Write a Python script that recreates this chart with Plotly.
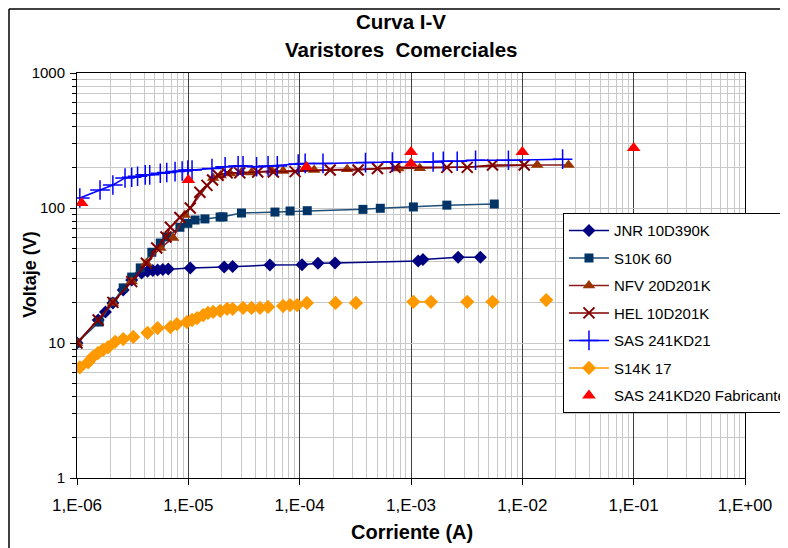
import plotly.graph_objects as go

# ---------------- data ----------------
JNR_I = [1.0e-6, 1.55e-6, 1.8e-6, 2.1e-6, 2.6e-6, 3.1e-6, 3.8e-6, 4.3e-6, 4.8e-6, 5.3e-6,
         5.9e-6, 6.6e-6, 1.04e-5, 2.1e-5, 2.5e-5, 5.4e-5, 1.05e-4, 1.46e-4, 2.08e-4,
         1.16e-3, 1.28e-3, 2.65e-3, 4.2e-3]
JNR_V = [10, 14.8, 17, 19.8, 24.7, 29.3, 33, 34, 34.5, 34.8,
         35, 35.3, 36, 36.5, 36.8, 37.8, 38, 39, 39.1,
         40.5, 41.5, 43.2, 43.2]

S10K_I = [1.0e-6, 1.58e-6, 2.1e-6, 2.6e-6, 3.1e-6, 3.7e-6, 4.7e-6, 5.6e-6, 6.4e-6, 8.4e-6,
          9.9e-6, 1.15e-5, 1.41e-5, 1.93e-5, 2.05e-5, 3.0e-5, 6.0e-5, 8.2e-5, 1.17e-4,
          3.7e-4, 5.3e-4, 1.05e-3, 2.1e-3, 5.6e-3]
S10K_V = [10, 14.3, 20.1, 25.6, 30.8, 36, 47, 55, 61, 72,
          77, 81.5, 83, 85.8, 86, 91.8, 93.3, 95, 95.5,
          97.7, 99.5, 101.8, 105, 107]

NFV_I = [1.0e-6, 2.1e-6, 3.1e-6, 4.2e-6, 5.6e-6, 7.3e-6, 9.3e-6, 1.67e-5, 1.95e-5, 2.37e-5,
         3.0e-5, 3.7e-5, 5.6e-5, 7.1e-5, 1.35e-4, 2.67e-4, 7.7e-4, 1.2e-3, 1.36e-2, 2.6e-2]
NFV_V = [10, 19.8, 28.5, 39, 50.5, 60, 88.6, 167, 174, 180,
         184, 183, 189, 188, 191, 194, 196, 197, 208, 208]

HEL_I = [1.0e-6, 1.55e-6, 2.1e-6, 3.1e-6, 4.2e-6, 5.2e-6, 6.3e-6, 6.9e-6, 8.4e-6, 1.04e-5,
         1.27e-5, 1.47e-5, 1.65e-5, 1.85e-5, 2.23e-5, 2.9e-5, 4.2e-5, 5.8e-5, 9.1e-5,
         1.88e-4, 3.35e-4, 5.0e-4, 7.2e-4, 2.1e-3, 3.2e-3, 5.4e-3, 1.04e-2]
HEL_V = [10, 14.8, 20, 28.5, 39, 50.5, 61, 72, 85, 100,
         131, 147, 161, 175, 182, 182, 185, 185, 186,
         191, 191, 196, 200, 200, 200, 208, 208]

SAS_I = [1.06e-6, 1.61e-6, 2.1e-6, 2.7e-6, 3.1e-6, 3.5e-6, 4.1e-6, 4.5e-6, 5.6e-6, 6.4e-6,
         7.6e-6, 8.8e-6, 9.9e-6, 1.08e-5, 1.63e-5, 2.14e-5, 2.8e-5, 3.1e-5, 4.1e-5, 5.2e-5,
         6.3e-5, 9.7e-5, 1.12e-4, 1.62e-4, 3.9e-4, 6.8e-4, 1.58e-3, 1.95e-3, 2.6e-3, 3.8e-3,
         7.5e-3, 2.3e-2]
SAS_V = [118.6, 136, 148, 167, 169, 172, 176, 176, 181, 183,
         186, 188, 191, 191, 196, 202, 205, 205, 202, 205,
         205, 212, 214, 214, 217, 219, 219, 222, 222, 226,
         226, 230]

# None = blank cell in the source sheet (line is broken there)
S14K_I = [1.06e-6, 1.26e-6, 1.39e-6, 1.54e-6, 1.71e-6, 1.9e-6, 2.2e-6, 2.6e-6, None,
          3.2e-6, None, 4.3e-6, None, 5.3e-6, None, 6.9e-6, None, 7.9e-6, None,
          9.7e-6, 1.08e-5, 1.2e-5, 1.36e-5, 1.5e-5, 1.67e-5, 1.93e-5, 2.23e-5, 2.5e-5, None,
          3.1e-5, None, 3.7e-5, None, 4.4e-5, None, 5.2e-5, None,
          7.1e-5, 8.2e-5, 9.5e-5, 1.16e-4, None, 2.1e-4, None, 3.2e-4, None,
          1.05e-3, 1.51e-3, None, 3.2e-3, None, 5.4e-3, None, 1.64e-2]
S14K_V = [6.6, 7.2, 7.9, 8.4, 8.9, 9.3, 10.2, 10.7, None,
          11.1, None, 11.9, None, 12.9, None, 13.1, None, 13.8, None,
          14.3, 14.8, 15.3, 16.1, 16.7, 17.0, 17.3, 17.9, 17.9, None,
          18.2, None, 18.2, None, 18.2, None, 18.5, None,
          18.8, 19.1, 19.1, 19.8, None, 19.8, None, 19.8, None,
          20.2, 20.2, None, 20.2, None, 20.2, None, 20.8]

FAB_I = [1.1e-6, 1.0e-5, 1.15e-4, 1.0e-3, 1.0e-3, 1.0e-2, 1.0e-1]
FAB_V = [109, 161, 201, 260, 214, 260, 278]

X_TICKS = [1e-6, 1e-5, 1e-4, 1e-3, 1e-2, 1e-1, 1e0]
X_LABELS = ["1,E-06", "1,E-05", "1,E-04", "1,E-03", "1,E-02", "1,E-01", "1,E+00"]
Y_TICKS = [1, 10, 100, 1000]
Y_LABELS = ["1", "10", "100", "1000"]

# minor (2..9) positions of each decade
X_MINOR = [m * d for d in X_TICKS[:-1] for m in range(2, 10)]
Y_MINOR = [m * d for d in Y_TICKS[:-1] for m in range(2, 10)]

FONT = "Liberation Sans, Arial, sans-serif"

fig = go.Figure()

series = [
    ("JNR 10D390K", JNR_I, JNR_V, "#000080", "#000080", "diamond", 10, 0),
    ("S10K 60", S10K_I, S10K_V, "#1F4E79", "#003366", "square", 9, 0),
    ("NFV 20D201K", NFV_I, NFV_V, "#8B1A1A", "#993300", "triangle-up", 11, 0),
    ("HEL 10D201K", HEL_I, HEL_V, "#800000", "#800000", "x-thin-open", 11, 2),
    ("SAS 241KD21", SAS_I, SAS_V, "#0000FF", "#0000FF", "cross-thin-open", 14, 1.5),
    ("S14K 17", S14K_I, S14K_V, "#FF9900", "#FF9900", "diamond", 11, 0),
]
for i, (name, xs, ys, lc, mc, sym, sz, mlw) in enumerate(series):
    marker = dict(symbol=sym, size=sz, color=mc)
    if mlw:
        marker["line"] = dict(color=mc, width=mlw)
    else:
        marker["line"] = dict(width=0)
    fig.add_trace(go.Scatter(
        x=xs, y=ys, name=name, mode="lines+markers",
        line=dict(color=lc, width=1.5), marker=marker,
        connectgaps=False, legendgroup=f"g{i}",
    ))

fig.add_trace(go.Scatter(
    x=FAB_I, y=FAB_V, name="SAS 241KD20 Fabricante", mode="markers",
    marker=dict(symbol="triangle-up", size=12, color="#FF0000", line=dict(width=0)),
    legendgroup="g6",
))

# The page body has an 8px margin, so the figure is laid out 8px up/left.
# autoexpand=False keeps the legend (which runs off the right edge, as in
# the reference) from shrinking the plot area.
# Outer chart-area frame, placed just inside the figure's top-left corner.
BX0, BX1, BY0, BY1 = -0.1018, 1.2, -0.25, 1.1580
fig.update_layout(
    width=788, height=548,
    margin=dict(l=69, r=51, t=65, b=78, autoexpand=False),
    paper_bgcolor="white", plot_bgcolor="white",
    font=dict(family=FONT, size=15, color="black"),
    showlegend=True,
    legend=dict(
        x=0.7275, y=0.654, xanchor="left", yanchor="top",
        bgcolor="white", bordercolor="black", borderwidth=1,
        font=dict(family=FONT, size=15, color="black"),
        itemwidth=40, traceorder="grouped", tracegroupgap=5,
    ),
    xaxis=dict(
        type="log", range=[-6, 0],
        tickmode="array", tickvals=X_TICKS, ticktext=X_LABELS,
        ticks="outside", ticklen=6, tickcolor="black",
        tickfont=dict(size=17), ticklabelstandoff=6,
        showline=True, linecolor="black", linewidth=1, mirror=True,
        showgrid=True, gridcolor="#404040", gridwidth=1,
        zeroline=False,
        minor=dict(tickmode="array", tickvals=X_MINOR, showgrid=True,
                   gridcolor="#C8C8C8", gridwidth=1, ticks=""),
    ),
    yaxis=dict(
        type="log", range=[0, 3],
        tickmode="array", tickvals=Y_TICKS, ticktext=Y_LABELS,
        ticks="outside", ticklen=6, tickcolor="black",
        tickfont=dict(size=15), ticklabelstandoff=2,
        showline=True, linecolor="black", linewidth=1, mirror=True,
        showgrid=True, gridcolor="#C8C8C8", gridwidth=1,
        zeroline=False,
        minor=dict(tickmode="array", tickvals=Y_MINOR, showgrid=True,
                   gridcolor="#C8C8C8", gridwidth=1, ticks="outside",
                   ticklen=4, tickcolor="black"),
    ),
    shapes=[
        dict(type="line", xref="paper", yref="paper",
             x0=BX0, x1=BX1, y0=BY1, y1=BY1,
             line=dict(color="black", width=1.5), layer="above"),
        dict(type="line", xref="paper", yref="paper",
             x0=BX0, x1=BX0, y0=BY0, y1=BY1,
             line=dict(color="black", width=1.5), layer="above"),
    ],
    annotations=[
        dict(text="<b>Curva I-V</b>", xref="paper", yref="paper", x=0.485, y=1.126,
             xanchor="center", yanchor="middle", showarrow=False,
             font=dict(family=FONT, size=20.5)),
        dict(text="<b>Varistores  Comerciales</b>", xref="paper", yref="paper",
             x=0.485, y=1.057, xanchor="center", yanchor="middle", showarrow=False,
             font=dict(family=FONT, size=20.5)),
        dict(text="<b>Corriente (A)</b>", xref="paper", yref="paper", x=0.5015, y=-0.133,
             xanchor="center", yanchor="middle", showarrow=False,
             font=dict(family=FONT, size=20)),
        dict(text="<b>Voltaje (V)</b>", xref="paper", yref="paper", x=-0.0704, y=0.504,
             xanchor="center", yanchor="middle", showarrow=False, textangle=-90,
             font=dict(family=FONT, size=18)),
    ],
)

fig.write_html("out.html")
